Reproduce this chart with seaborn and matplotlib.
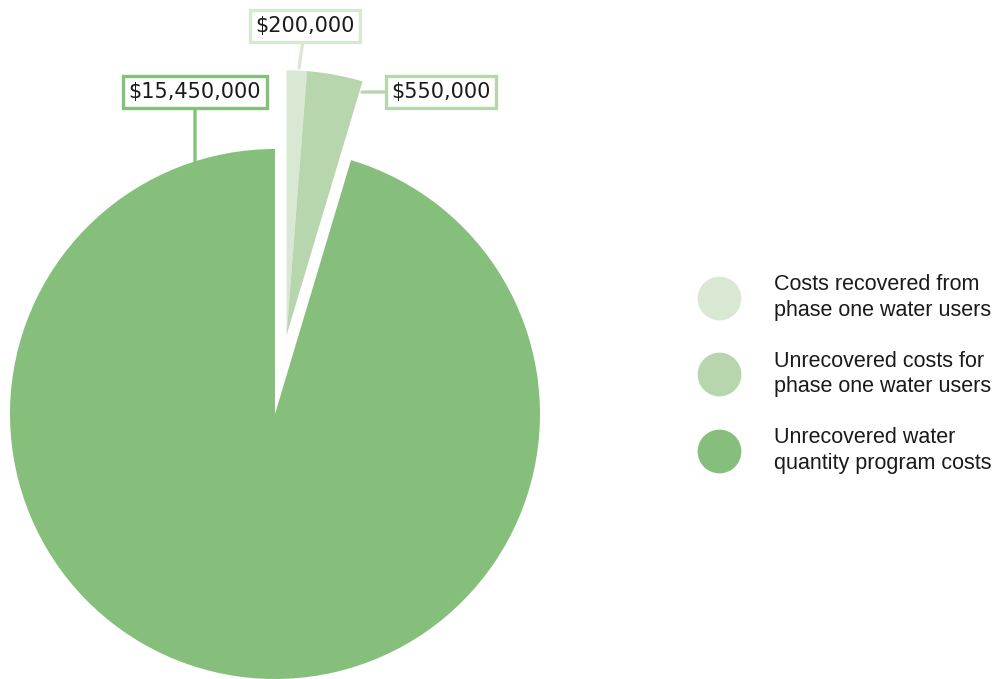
import numpy as np
import seaborn as sns
from matplotlib import pyplot as plt
from matplotlib.lines import Line2D

# data
categories = ['Costs recovered from\nphase one water users',
              'Unrecovered costs for\nphase one water users',
              'Unrecovered water\nquantity program costs']
values = [200000, 550000, 15450000]
value_labels = ['$200,000', '$550,000', '$15,450,000']
colors = ['#d8e8d3', '#b8d6ae', '#86bf7c']

sns.set_theme(style='white')
plt.rcParams['font.family'] = ['DejaVu Sans']

fig = plt.figure(figsize=(9.98, 6.79), dpi=100)
ax = fig.add_axes([0, 0, 1, 1])

center = (275, 265)
radius = 265
wedges, _ = ax.pie(values, colors=colors, startangle=90, counterclock=False,
                   center=center, radius=radius, wedgeprops=dict(linewidth=0))

# pull the two small slices out together along their common mid-angle
small_frac = sum(values[:2]) / sum(values)
mid = np.deg2rad(90 - 360 * small_frac / 2)
shift = 0.3 * radius
for w in wedges[:2]:
    w.set_center((center[0] + shift * np.cos(mid), center[1] + shift * np.sin(mid)))

ax.set_xlim(0, 998)
ax.set_ylim(0, 679)
ax.set_aspect('equal')
ax.axis('off')

# value labels: (text position, point on slice)
label_pos = [((305, 653), (299, 611)),
             ((441, 587), (362, 587)),
             ((195, 587), (195, 518))]
for txt, col, (xyt, xy) in zip(value_labels, colors, label_pos):
    ax.annotate(txt, xy=xy, xytext=xyt, ha='center', va='center', fontsize=15,
                color='#1a1a1a',
                bbox=dict(boxstyle='square,pad=0.27', fc='white', ec=col, lw=2.4),
                arrowprops=dict(arrowstyle='-', color=col, lw=2.4,
                                shrinkA=0, shrinkB=0))

handles = [Line2D([], [], marker='o', ls='', markersize=31.5, markerfacecolor=c,
                  markeredgewidth=0) for c in colors]
leg = ax.legend(handles, categories, loc='center left',
                bbox_to_anchor=(697 / 998, (679 - 374) / 679),
                frameon=False, handlelength=2.0, handletextpad=1.58,
                labelspacing=1.37, borderpad=0, borderaxespad=0,
                prop=dict(family='Liberation Sans', size=15.5))
for t in leg.get_texts():
    t.set_color('#1a1a1a')
    t.set_linespacing(1.3)

fig.savefig('out.png', dpi=100)
